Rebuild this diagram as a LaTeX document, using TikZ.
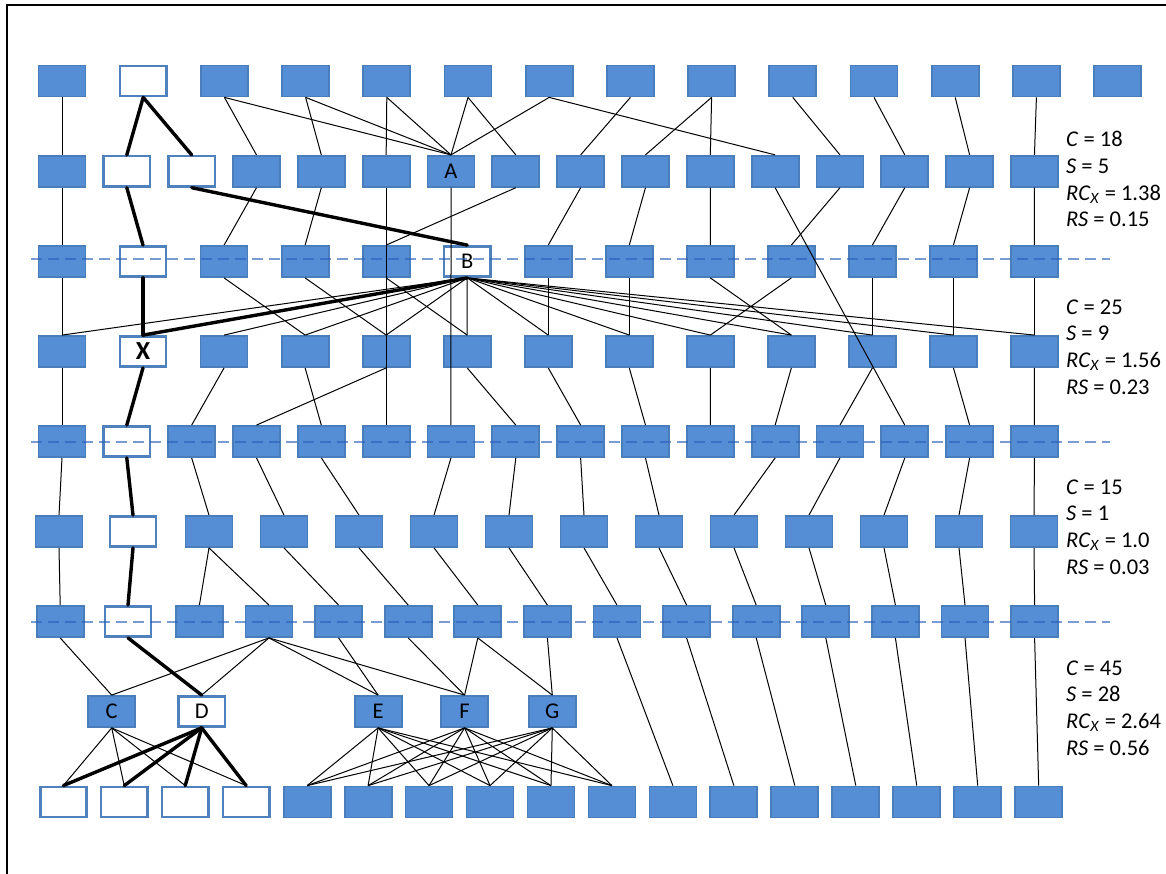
\documentclass[tikz,border=0pt]{standalone}
\usepackage{fontspec}
\setmainfont{Carlito}
\definecolor{boxfill}{RGB}{85,142,213}
\definecolor{boxline}{RGB}{74,126,187}
\definecolor{wline}{RGB}{79,129,189}
\definecolor{levelline}{RGB}{40,95,185}
\begin{document}
\begin{tikzpicture}[x=1pt,y=-1pt,
  bbox/.style={draw=boxline, fill=boxfill, line width=1.8pt, minimum width=47pt,
    minimum height=31pt, inner sep=0pt, font=\fontsize{22.5}{25}\selectfont},
  wbox/.style={draw=wline, fill=white, line width=2.6pt, minimum width=46.2pt,
    minimum height=30.2pt, inner sep=0pt, font=\fontsize{22.5}{25}\selectfont},
  link/.style={line width=1pt, black},
  hot/.style={line width=3.4pt, black, line cap=round},
  level/.style={draw=levelline, draw opacity=0.62, line width=2pt, dash pattern=on 11pt off 6pt},
  note/.style={anchor=base west, inner sep=0pt, font=\fontsize{22.5}{26}\selectfont}]
\useasboundingbox (0,0) rectangle (1166,874);

% frame
\draw[line width=2.2pt] (7,880) -- (7,5) -- (1175,5);

% ---------- level 0 ----------
\foreach \i in {0,2,3,4,5,6,7,8,9,10,11,12,13}
  \node[bbox] (r0-\i) at ({62+81.2*\i},81) {};
\node[wbox] (r0-1) at (143.2,81) {};

% ---------- level 1 ----------
\foreach \i in {0,3,4,5,7,8,9,10,11,12,13,14,15}
  \node[bbox] (r1-\i) at ({62+64.83*\i},171.3) {};
\node[wbox] (r1-1) at (126.8,171.3) {};
\node[wbox] (r1-2) at (191.7,171.3) {};
\node[bbox] (r1-6) at (451,171.3) {A};

% ---------- level 2 ----------
\foreach \i in {0,2,3,4,6,7,8,9,10,11,12}
  \node[bbox] (r2-\i) at ({62+81.04*\i},261.5) {};
\node[wbox] (r2-1) at (143,261.5) {};
\node[wbox] (r2-5) at (467.2,261.5) {B};

% ---------- level 3 ----------
\foreach \i in {0,2,3,4,5,6,7,8,9,10,11,12}
  \node[bbox] (r3-\i) at ({62+81.04*\i},351.5) {};
\node[wbox, font=\fontsize{26}{28}\selectfont\bfseries] (r3-1) at (143,351.5) {X};

% ---------- level 4 ----------
\foreach \i in {0,2,3,4,5,6,7,8,9,10,11,12,13,14,15}
  \node[bbox] (r4-\i) at ({62+64.83*\i},441.5) {};
\node[wbox] (r4-1) at (126.8,441.5) {};

% ---------- level 5 ----------
\foreach \i in {0,2,3,4,5,6,7,8,9,10,11,12,13}
  \node[bbox] (r5-\i) at ({59+75*\i},531.5) {};
\node[wbox] (r5-1) at (133,531.5) {};

% ---------- level 6 ----------
\foreach \i in {0,2,3,4,5,6,7,8,9,10,11,12,13,14}
  \node[bbox] (r6-\i) at ({60.2+69.6*\i},621.5) {};
\node[wbox] (r6-1) at (128,621.5) {};

% ---------- level 7 ----------
\node[bbox] (C) at (111.7,711.5) {C};
\node[wbox] (D) at (201.7,711.5) {D};
\node[bbox] (E) at (378.1,711.5) {E};
\node[bbox] (F) at (464.6,711.5) {F};
\node[bbox] (G) at (552.3,711.5) {G};

% ---------- level 8 ----------
\foreach \i in {0,1,2,3}
  \node[wbox] (r8-\i) at ({63.3+60.96*\i},802) {};
\foreach \i in {4,5,6,7,8,9,10,11,12,13,14,15,16}
  \node[bbox] (r8-\i) at ({63.3+60.96*\i},802) {};

% level separators
\foreach \yy in {259.5,441.5,621.5}
  \draw[level] (31,\yy) -- (1110,\yy);

% ---------- ordinary links ----------
\foreach \a/\b in {
  r0-0/r1-0, r0-2/r1-3, r0-2/r1-6, r0-3/r1-4, r0-3/r1-6, r0-4/r1-5, r0-4/r1-6,
  r0-5/r1-6, r0-5/r1-7, r0-6/r1-6, r0-6/r1-11, r0-7/r1-8, r0-8/r1-9, r0-8/r1-10,
  r0-9/r1-12, r0-10/r1-13, r0-11/r1-14, r0-12/r1-15,
  r1-0/r2-0, r1-3/r2-2, r1-4/r2-3, r1-5/r4-5, r1-6/r4-6, r1-7/r2-4, r1-8/r2-6,
  r1-9/r2-7, r1-10/r2-8, r1-11/r4-13, r1-12/r2-9, r1-13/r2-10, r1-14/r2-11,
  r1-15/r2-12,
  r2-0/r3-0, r2-2/r3-3, r2-3/r3-4, r2-4/r3-5, r2-6/r3-6, r2-7/r3-7, r2-8/r3-9,
  r2-9/r3-8, r2-10/r3-10, r2-11/r3-11, r2-12/r3-12,
  r3-0/r4-0, r3-2/r4-2, r3-3/r4-4, r3-4/r4-3, r3-5/r4-7, r3-6/r4-8, r3-7/r4-9,
  r3-8/r4-10, r3-9/r4-11, r3-10/r4-12, r3-11/r4-14, r3-12/r4-15,
  r4-0/r5-0, r4-2/r5-2, r4-3/r5-3, r4-4/r5-4, r4-6/r5-5, r4-7/r5-6, r4-8/r5-7,
  r4-9/r5-8, r4-11/r5-9, r4-12/r5-10, r4-13/r5-11, r4-14/r5-12, r4-15/r5-13,
  r5-0/r6-0, r5-2/r6-2, r5-2/r6-3, r5-3/r6-4, r5-4/r6-5, r5-5/r6-6, r5-6/r6-7,
  r5-7/r6-8, r5-8/r6-9, r5-9/r6-10, r5-10/r6-11, r5-11/r6-12, r5-12/r6-13,
  r5-13/r6-14,
  r6-0/C, r6-3/C, r6-3/D, r6-3/E, r6-3/F, r6-4/E, r6-5/F, r6-6/F, r6-6/G, r6-7/G,
  r6-8/r8-10, r6-9/r8-11, r6-10/r8-12, r6-11/r8-13, r6-12/r8-14, r6-13/r8-15,
  r6-14/r8-16}
  \draw[link] (\a.south) -- (\b.north);

% fan-out of B
\foreach \j in {0,2,3,4,5,6,7,8,9,10,11,12}
  \draw[link] (r2-5.south) -- (r3-\j.north);

% fan-out of C, E, F, G
\foreach \j in {0,1,2,3}
  \draw[link] (C.south) -- (r8-\j.north);
\foreach \s in {E,F,G}
  \foreach \j in {4,5,6,7,8,9}
    \draw[link] (\s.south) -- (r8-\j.north);

% ---------- highlighted path ----------
\foreach \a/\b in {
  r0-1/r1-1, r0-1/r1-2, r1-1/r2-1, r1-2/r2-5, r2-1/r3-1, r2-5/r3-1,
  r3-1/r4-1, r4-1/r5-1, r5-1/r6-1, r6-1/D,
  D/r8-0, D/r8-1, D/r8-2, D/r8-3}
  \draw[hot] (\a.south) -- (\b.north);

% ---------- measures ----------
\node[note] (m1c) at (1066,146.5) {\textit{C} = 18};
\node[note] (m1s) at (1066,173.3) {\textit{S} = 5};
\node[note] (m1r) at (1066,200.1) {\textit{RC}\textsubscript{\textit{X}} = 1.38};
\node[note] (m1q) at (1066,226.9) {\textit{RS} = 0.15};

\node[note] (m2c) at (1066,314) {\textit{C} = 25};
\node[note] (m2s) at (1066,340.8) {\textit{S} = 9};
\node[note] (m2r) at (1066,367.6) {\textit{RC}\textsubscript{\textit{X}} = 1.56};
\node[note] (m2q) at (1066,394.4) {\textit{RS} = 0.23};

\node[note] (m3c) at (1066,494) {\textit{C} = 15};
\node[note] (m3s) at (1066,520.8) {\textit{S} = 1};
\node[note] (m3r) at (1066,547.6) {\textit{RC}\textsubscript{\textit{X}} = 1.0};
\node[note] (m3q) at (1066,574.4) {\textit{RS} = 0.03};

\node[note] (m4c) at (1066,675) {\textit{C} = 45};
\node[note] (m4s) at (1066,701.8) {\textit{S} = 28};
\node[note] (m4r) at (1066,728.6) {\textit{RC}\textsubscript{\textit{X}} = 2.64};
\node[note] (m4q) at (1066,755.4) {\textit{RS} = 0.56};
\end{tikzpicture}
\end{document}
